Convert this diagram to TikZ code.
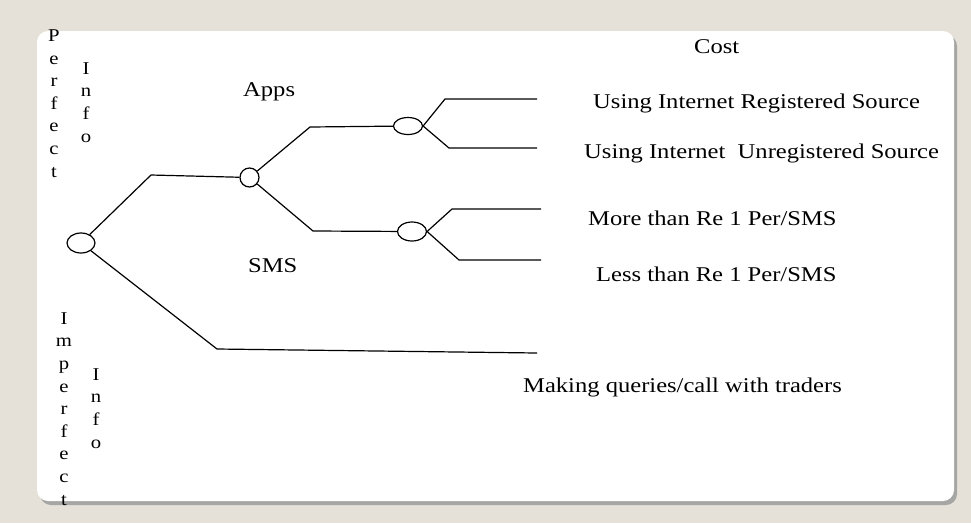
\documentclass[tikz,border=0pt]{standalone}
\usepackage{fontspec}
\setmainfont{Liberation Serif}
\usetikzlibrary{shadows,shapes.geometric}
\definecolor{pagebg}{RGB}{229,225,216}
\definecolor{shadowgray}{RGB}{160,160,160}
% labels are set slightly wide
\newcommand{\widetext}[1]{\scalebox{1.17}[1]{#1}}
% a word written as a column of letters, based on its last letter
\newcommand{\letterstack}[1]{\scalebox{1.15}[1]{\begin{tabular}[b]{@{}c@{}}#1\end{tabular}}}
\tikzset{
  x=1pt, y=-1pt,
  panel/.style={fill=white, rounded corners=11pt,
    drop shadow={shadow xshift=3pt, shadow yshift=-4pt, fill=shadowgray, opacity=0.9}},
  chance/.style={draw, ellipse, line width=1.2pt, inner sep=0pt, fill=white},
  branch/.style={line width=1.2pt, line join=round},
  label/.style={font=\fontsize{21}{22.7}\selectfont, inner sep=0pt, anchor=base west},
  vert/.style={font=\fontsize{18}{22.6}\selectfont, inner sep=0pt, anchor=base},
}
\begin{document}
\begin{tikzpicture}
  \useasboundingbox[fill=pagebg] (0,0) rectangle (971,523);
  \path[panel] (37,31) rectangle (954,501);

  % decision and chance nodes
  \node[chance, minimum width=28pt, minimum height=20pt] (root) at (81,243) {};
  \node[chance, minimum width=19pt, minimum height=19pt] (apps) at (249.5,177.5) {};
  \node[chance, minimum width=29pt, minimum height=17pt] (net) at (408,126) {};
  \node[chance, minimum width=29pt, minimum height=19pt] (sms) at (412,231.5) {};

  % bends and free ends
  \coordinate (r1) at (151,175);
  \coordinate (r2) at (217,349);
  \coordinate (r3) at (537,353);
  \coordinate (a1) at (310,127);
  \coordinate (a2) at (313,231);
  \coordinate (n1) at (445,99);
  \coordinate (n1e) at (537,99);
  \coordinate (n2) at (449,148);
  \coordinate (n2e) at (537,148);
  \coordinate (s1) at (452,209);
  \coordinate (s1e) at (541,209);
  \coordinate (s2) at (459,260);
  \coordinate (s2e) at (541,260);

  % branches
  \draw[branch] (root) -- (r1) -- (apps);
  \draw[branch] (root) -- (r2) -- (r3);
  \draw[branch] (apps) -- (a1) -- (net);
  \draw[branch] (apps) -- (a2) -- (sms);
  \draw[branch] (net.east) -- (n1) -- (n1e);
  \draw[branch] (net.east) -- (n2) -- (n2e);
  \draw[branch] (sms.east) -- (s1) -- (s1e);
  \draw[branch] (sms.east) -- (s2) -- (s2e);

  % labels
  \node[label] (cost) at (694,53) {\widetext{Cost}};
  \node[label] (lapps) at (243,96) {\widetext{Apps}};
  \node[label] (lsms) at (248,272) {\widetext{SMS}};
  \node[label] (o1) at (593,108) {\widetext{Using Internet Registered Source}};
  \node[label] (o2) at (584,158) {\widetext{Using Internet\ \ Unregistered Source}};
  \node[label] (o3) at (588,225) {\widetext{More than Re 1 Per/SMS}};
  \node[label] (o4) at (596,281) {\widetext{Less than Re 1 Per/SMS}};
  \node[label] (o5) at (523,392) {\widetext{Making queries/call with traders}};

  % vertical captions (anchored at the last letter's baseline)
  \node[vert] (perf) at (54,177) {\letterstack{P\\e\\r\\f\\e\\c\\t}};
  \node[vert] (pinfo) at (86,142) {\letterstack{I\\n\\f\\o}};
  \node[vert] (imperf) at (64,505) {\letterstack{I\\m\\p\\e\\r\\f\\e\\c\\t}};
  \node[vert] (iinfo) at (96,448) {\letterstack{I\\n\\f\\o}};
\end{tikzpicture}
\end{document}
